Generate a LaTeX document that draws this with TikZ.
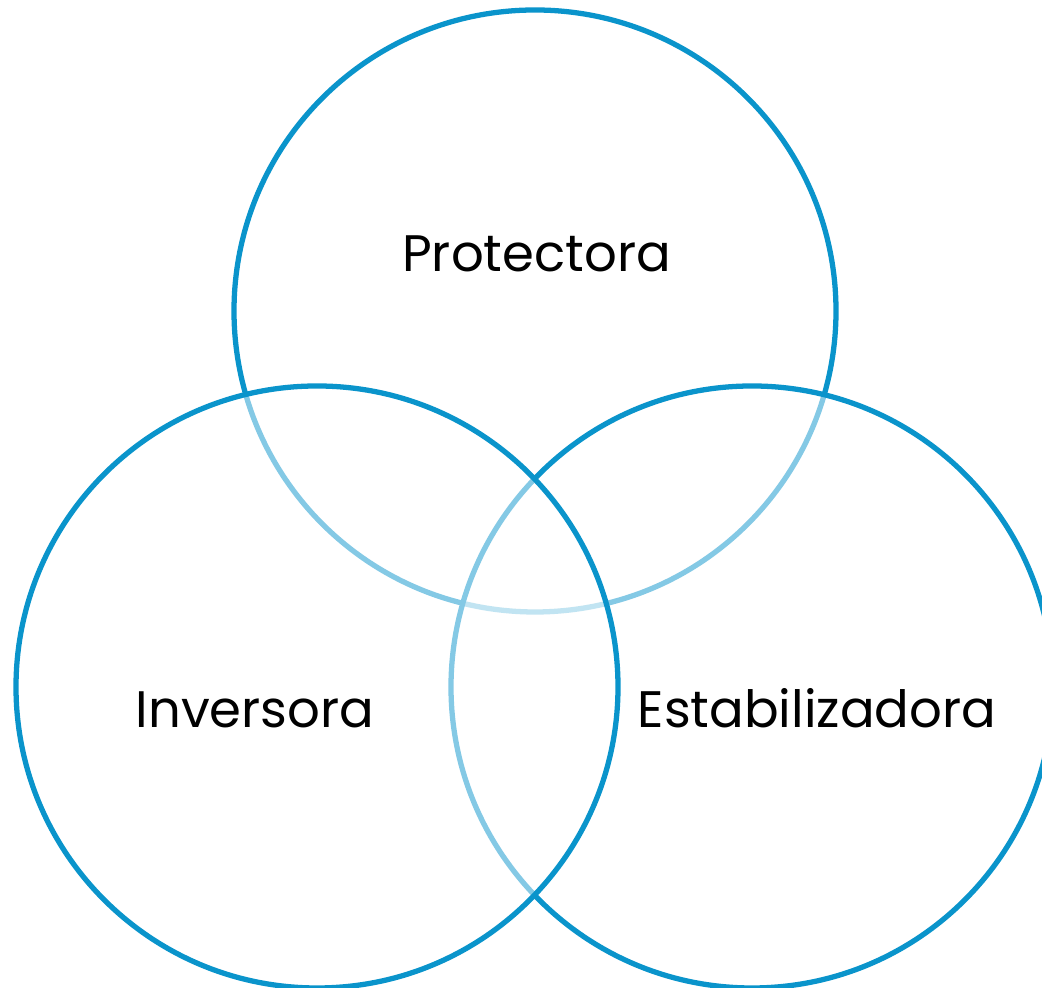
\documentclass[tikz,border=0pt]{standalone}
\usepackage{fontspec}
\setmainfont{Poppins}
\definecolor{vennblue}{HTML}{0A94CB}
\tikzset{
  venn/.style={circle, draw=vennblue, line width=1.5pt, fill=white, fill opacity=0.5, minimum size=6.02cm, inner sep=0pt},
  vennlabel/.style={font=\fontsize{14.6}{17}\selectfont, text=black, inner sep=0pt, anchor=base}
}
\begin{document}
\begin{tikzpicture}
\useasboundingbox (0,0) rectangle (10.42,9.88);
\clip (0,0) rectangle (10.42,9.88);
\node[venn] (prot) at (5.35,6.77) {};
\node[venn] (estab) at (7.52,3.01) {};
\node[venn] (inv) at (3.17,3.01) {};
\node[vennlabel] (lprot) at (5.365,7.16) {Protectora};
\node[vennlabel] (linv) at (2.55,2.60) {Inversora};
\node[vennlabel] (lestab) at (8.17,2.60) {Estabilizadora};
\end{tikzpicture}
\end{document}
